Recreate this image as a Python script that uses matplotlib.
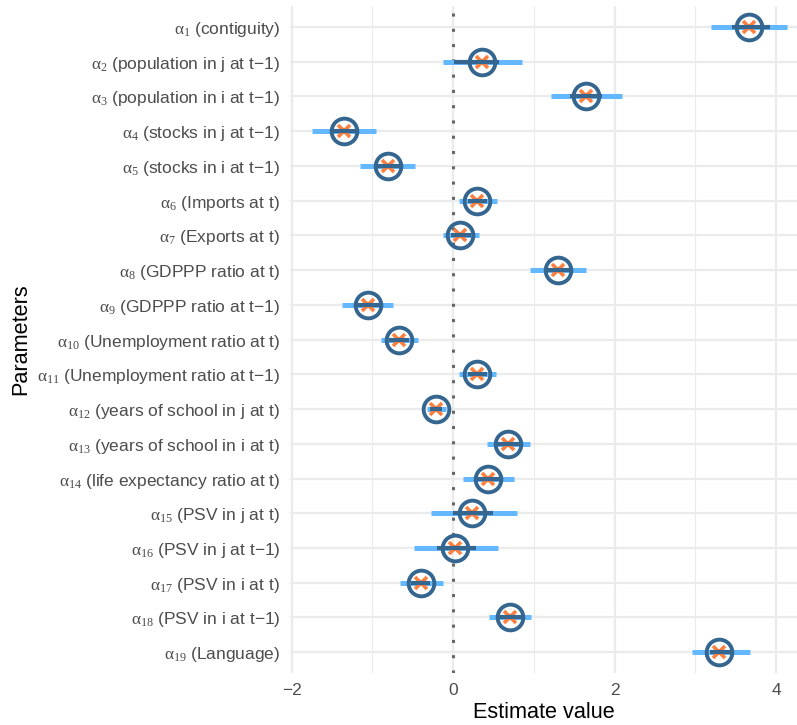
import numpy as np
import matplotlib.pyplot as plt

# ---- data ----
names = ['contiguity', 'population in j at t\u22121', 'population in i at t\u22121',
         'stocks in j at t\u22121', 'stocks in i at t\u22121', 'Imports at t',
         'Exports at t', 'GDPPP ratio at t', 'GDPPP ratio at t\u22121',
         'Unemployment ratio at t', 'Unemployment ratio at t\u22121',
         'years of school in j at t', 'years of school in i at t',
         'life expectancy ratio at t', 'PSV in j at t', 'PSV in j at t\u22121',
         'PSV in i at t', 'PSV in i at t\u22121', 'Language']
estimate = [3.67, 0.36, 1.65, -1.35, -0.81, 0.30, 0.09, 1.30, -1.05, -0.67,
            0.30, -0.21, 0.68, 0.43, 0.24, 0.02, -0.40, 0.70, 3.30]
outer_lo = [3.20, -0.12, 1.21, -1.75, -1.15, 0.07, -0.12, 0.95, -1.37, -0.89,
            0.07, -0.32, 0.42, 0.12, -0.27, -0.49, -0.66, 0.45, 2.96]
outer_hi = [4.14, 0.85, 2.09, -0.96, -0.47, 0.54, 0.32, 1.65, -0.74, -0.43,
            0.53, -0.09, 0.95, 0.75, 0.79, 0.56, -0.12, 0.97, 3.68]
inner_lo = [3.45, 0.01, 1.45, -1.52, -0.98, 0.18, -0.03, 1.14, -1.20, -0.79,
            0.18, -0.28, 0.53, 0.28, 0.00, -0.20, -0.52, 0.57, 3.18]
inner_hi = [3.92, 0.57, 1.84, -1.18, -0.65, 0.42, 0.22, 1.47, -0.89, -0.54,
            0.42, -0.14, 0.84, 0.61, 0.49, 0.28, -0.28, 0.86, 3.48]
xticks = [-2, 0, 2, 4]

labels = [r'$\alpha_{%d}$ (%s)' % (i + 1, n) for i, n in enumerate(names)]

plt.rcParams['font.family'] = ['Liberation Sans', 'DejaVu Sans']
plt.rcParams['mathtext.fontset'] = 'custom'
plt.rcParams['mathtext.rm'] = 'Liberation Serif'
plt.rcParams['mathtext.it'] = 'Liberation Serif'

fig = plt.figure(figsize=(7.97, 7.25), dpi=100)
ax = fig.add_axes([290 / 797, 1 - 673 / 725, 507 / 797, (673 - 6.2) / 725])

y = np.arange(len(names))
grid_col = '#ebebeb'
for v in [-1, 1, 3]:
    ax.axvline(v, color=grid_col, lw=0.8, zorder=0)
for v in xticks:
    ax.axvline(v, color=grid_col, lw=1.6, zorder=0)
for yy in y:
    ax.axhline(yy, color=grid_col, lw=1.6, zorder=0)

ax.axvline(0, color='#666666', lw=2.2, ls=(0, (1, 4)), zorder=1)

ax.hlines(y, outer_lo, outer_hi, color='#63b8ff', lw=3.6, zorder=2)
ax.plot(estimate, y, ls='', marker='x', ms=8, mew=2.6, color='#ff7f3f', zorder=3)
ax.hlines(y, inner_lo, inner_hi, color='#346690', lw=3.0, zorder=4)
ax.plot(estimate, y, ls='', marker='o', ms=18.5, mew=2.8, mfc='none',
        mec='#346690', zorder=5)

ax.set_xlim(-2.02, 4.26)
ax.set_ylim(len(names) - 0.4, -0.6)
ax.set_xticks(xticks)
ax.set_xticklabels(['\u22122', '0', '2', '4'])
ax.set_yticks(y)
ax.set_yticklabels(labels)
ax.tick_params(length=0, labelsize=12.5, labelcolor='#4d4d4d', pad=7)
for s in ax.spines.values():
    s.set_visible(False)

ax.set_xlabel('Estimate value', fontsize=15.6, labelpad=3)
ax.set_ylabel('Parameters', fontsize=15.6, labelpad=4)

fig.savefig('out.png', dpi=100)
